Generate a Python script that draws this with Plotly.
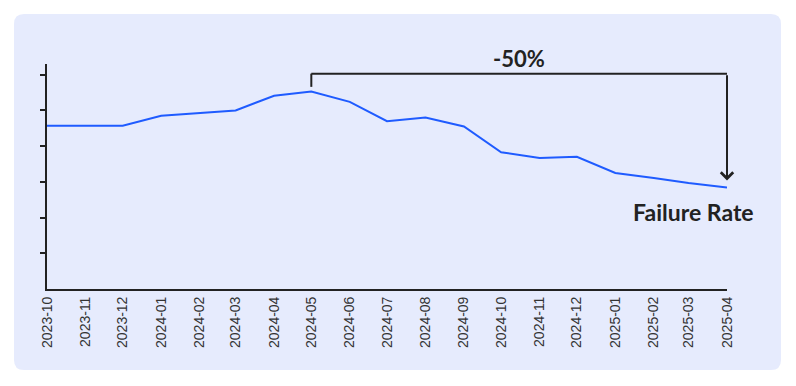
import plotly.graph_objects as go
import pandas as pd

months = ["2023-10", "2023-11", "2023-12", "2024-01", "2024-02", "2024-03", "2024-04",
          "2024-05", "2024-06", "2024-07", "2024-08", "2024-09", "2024-10", "2024-11",
          "2024-12", "2025-01", "2025-02", "2025-03", "2025-04"]
failure_rate = [4.57, 4.57, 4.57, 4.85, 4.92, 5.00, 5.41, 5.53, 5.24, 4.70, 4.80, 4.55,
                3.83, 3.67, 3.70, 3.25, 3.11, 2.97, 2.84]
series_name = "Failure Rate"
change_label = "-50%"

dates = pd.to_datetime(months)
imax = failure_rate.index(max(failure_rate))
x_peak = dates[imax]
x_last = dates[-1]
x_mid = x_peak + (x_last - x_peak) / 2

bracket_top = max(failure_rate) + 0.5
peak_leg = max(failure_rate) + 0.13
arrow_tip = failure_rate[-1] + 0.2

INK = "#222222"
fig = go.Figure()
fig.add_trace(go.Scatter(x=dates, y=failure_rate, mode="lines",
                         line=dict(color="#1F5BFF", width=2), name=series_name,
                         showlegend=False, hoverinfo="skip"))

# card background
W, H = 796, 386
l, r, t, b = 39, 77, 56, 105
pw, ph = W - l - r, H - t - b
def px(xp): return (xp - l) / pw
def py(yp): return (H - b - yp) / ph
x0, x1, y0, y1, rad = 6, 773, 6, 362, 10
path = (f"M {px(x0+rad)},{py(y0)} L {px(x1-rad)},{py(y0)} "
        f"Q {px(x1)},{py(y0)} {px(x1)},{py(y0+rad)} L {px(x1)},{py(y1-rad)} "
        f"Q {px(x1)},{py(y1)} {px(x1-rad)},{py(y1)} L {px(x0+rad)},{py(y1)} "
        f"Q {px(x0)},{py(y1)} {px(x0)},{py(y1-rad)} L {px(x0)},{py(y0+rad)} "
        f"Q {px(x0)},{py(y0)} {px(x0+rad)},{py(y0)} Z")
fig.add_shape(type="path", path=path, xref="paper", yref="paper",
              fillcolor="#E6EBFD", line=dict(width=0), layer="below")

# bracket
fig.add_shape(type="line", x0=x_peak, x1=x_peak, y0=peak_leg, y1=bracket_top,
              line=dict(color=INK, width=2))
fig.add_shape(type="line", x0=x_peak, x1=x_last, y0=bracket_top, y1=bracket_top,
              line=dict(color=INK, width=2))
fig.add_annotation(x=x_last, y=arrow_tip, ax=x_last, ay=bracket_top, axref="x", ayref="y",
                   xref="x", yref="y", text="", showarrow=True, arrowhead=4,
                   arrowsize=1.2, arrowwidth=2, arrowcolor=INK)
fig.add_annotation(x=x_mid, y=bracket_top, text=f"<b>{change_label}</b>", showarrow=False,
                   yanchor="bottom", yshift=0,
                   font=dict(family="Lato", size=22, color=INK))
fig.add_annotation(x=x_last, y=failure_rate[-1], text=f"<b>{series_name}</b>", showarrow=False,
                   xanchor="center", yanchor="middle", xshift=-34, yshift=-24,
                   font=dict(family="Lato", size=23, color=INK))

fig.update_layout(
    width=W, height=H, margin=dict(l=l, r=r, t=t, b=b),
    paper_bgcolor="white", plot_bgcolor="rgba(0,0,0,0)",
    showlegend=False,
    xaxis=dict(range=[dates[0], dates[-1]], tickvals=dates, ticktext=months,
               tickangle=-90, showgrid=False, zeroline=False, showline=True,
               linecolor=INK, linewidth=2, ticks="", automargin=False,
               tickfont=dict(family="Liberation Sans", size=14, color="#333333")),
    yaxis=dict(range=[0, 6.3], tickvals=[1, 2, 3, 4, 5, 6], showticklabels=False,
               showgrid=False, zeroline=False, showline=True, linecolor=INK, linewidth=2,
               ticks="outside", ticklen=5, tickwidth=2, tickcolor=INK, automargin=False),
)
fig.write_html("out.html")
